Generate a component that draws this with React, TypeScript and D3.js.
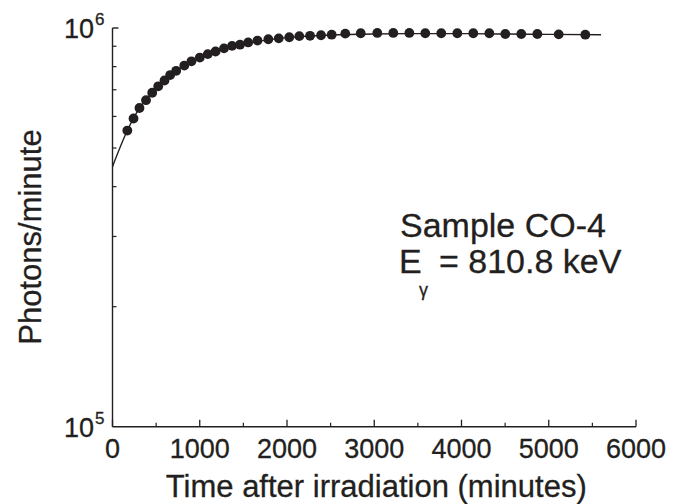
import React from "react";
import * as d3 from "d3";

// Measured data points (time after irradiation in minutes, photons/minute)
const times = [170, 241, 309, 384, 455, 524, 596, 661, 730, 823, 905, 1001, 1092, 1181, 1278, 1370, 1461, 1555, 1662, 1786, 1905, 2026, 2141, 2264, 2390, 2512, 2668, 2845, 3035, 3218, 3402, 3585, 3768, 3952, 4135, 4319, 4502, 4685, 4869, 5114, 5419];
const counts = [553000, 593000, 630000, 659000, 688000, 714000, 738500, 762000, 781000, 805000, 825000, 843000, 860000, 873000, 889000, 902000, 908000, 920000, 930000, 937000, 942000, 948000, 954000, 956000, 959000, 962000, 968000, 970000, 972000, 972000, 972000, 970000, 970000, 970000, 970000, 970000, 966000, 966000, 966000, 964000, 962000];

// Fitted curve
const fitTimes = [0, 170, 300, 450, 600, 800, 1000, 1250, 1500, 1800, 2100, 2500, 3000, 3500, 4000, 4500, 5000, 5600];
const fitValues = [449000, 553000, 625000, 686000, 738000, 798000, 842000, 884000, 912000, 935000, 950000, 960000, 966000, 968000, 968000, 966000, 964000, 962000];

const xMajorTicks = [0, 1000, 2000, 3000, 4000, 5000, 6000];
const xMinorTicks = [500, 1500, 2500, 3500, 4500, 5500];
const yMinorTicks = [200000, 300000, 400000, 500000, 600000, 700000, 800000, 900000];
const yLabels = [{ value: 100000, exp: "5" }, { value: 1000000, exp: "6" }];

const INK = "#231f20";
const FONT = "Liberation Sans, Arial, Helvetica, sans-serif";

export default function App() {
  const W = 685, H = 504;
  const x = d3.scaleLinear().domain([0, 6000]).range([112.5, 636]);
  const y = d3.scaleLog().domain([1e5, 1e6]).range([426.7, 28]);

  const line = d3
    .line<number>()
    .x((_, i) => x(fitTimes[i]))
    .y((d) => y(d))
    .curve(d3.curveMonotoneX);

  const x0 = x(0), y0 = y(1e5), yTop = y(1e6), xEnd = x(6000);
  const ts = { fill: INK, stroke: INK, strokeWidth: 0.3 };

  return (
    <svg width={W} height={H} style={{ position: "absolute", left: 0, top: 0, background: "#fff" }} fontFamily={FONT}>
      <rect width={W} height={H} fill="#fff" />
      {/* axes */}
      <line x1={x0} y1={yTop} x2={x0} y2={y0} stroke={INK} strokeWidth={1.4} />
      <line x1={x0} y1={y0} x2={xEnd} y2={y0} stroke={INK} strokeWidth={1.4} />
      {/* y ticks */}
      <line x1={x0} y1={yTop} x2={x0 + 6} y2={yTop} stroke={INK} strokeWidth={1.4} />
      {yMinorTicks.map((v) => (
        <line key={v} x1={x0} y1={y(v)} x2={x0 + 4} y2={y(v)} stroke={INK} strokeWidth={1.2} />
      ))}
      {/* x ticks */}
      {xMajorTicks.map((v) => (
        <line key={v} x1={x(v)} y1={y0} x2={x(v)} y2={y0 - 7} stroke={INK} strokeWidth={1.3} />
      ))}
      {xMinorTicks.map((v) => (
        <line key={v} x1={x(v)} y1={y0} x2={x(v)} y2={y0 - 4} stroke={INK} strokeWidth={1.2} />
      ))}
      {/* x tick labels */}
      {xMajorTicks.map((v) => (
        <text key={v} x={x(v)} y={y0 + 31} textAnchor="middle" fontSize={27} {...ts}>
          {v}
        </text>
      ))}
      {/* y tick labels */}
      {yLabels.map((l) => (
        <g key={l.exp}>
          <text x={94} y={y(l.value) + 10} textAnchor="end" fontSize={27} {...ts}>
            10
          </text>
          <text x={95} y={y(l.value) - 3} textAnchor="start" fontSize={17} {...ts}>
            {l.exp}
          </text>
        </g>
      ))}
      {/* axis titles */}
      <text x={(x0 + xEnd) / 2 + 2} y={497} textAnchor="middle" fontSize={31} {...ts}>
        Time after irradiation (minutes)
      </text>
      <text transform={`translate(41, 237) rotate(-90)`} textAnchor="middle" fontSize={31} {...ts}>
        Photons/minute
      </text>
      {/* fit line */}
      <path d={line(fitValues) || ""} fill="none" stroke={INK} strokeWidth={1.4} />
      {/* points */}
      {times.map((t, i) => (
        <circle key={i} cx={x(t)} cy={y(counts[i])} r={4.9} fill={INK} />
      ))}
      {/* annotation */}
      <text x={400} y={237} fontSize={34} {...ts}>
        Sample CO-4
      </text>
      <text x={399} y={273} fontSize={34} {...ts}>
        E
      </text>
      <text x={419} y={296} fontSize={18} {...ts}>
        γ
      </text>
      <text x={439} y={273} fontSize={34} {...ts}>
        = 810.8 keV
      </text>
    </svg>
  );
}
